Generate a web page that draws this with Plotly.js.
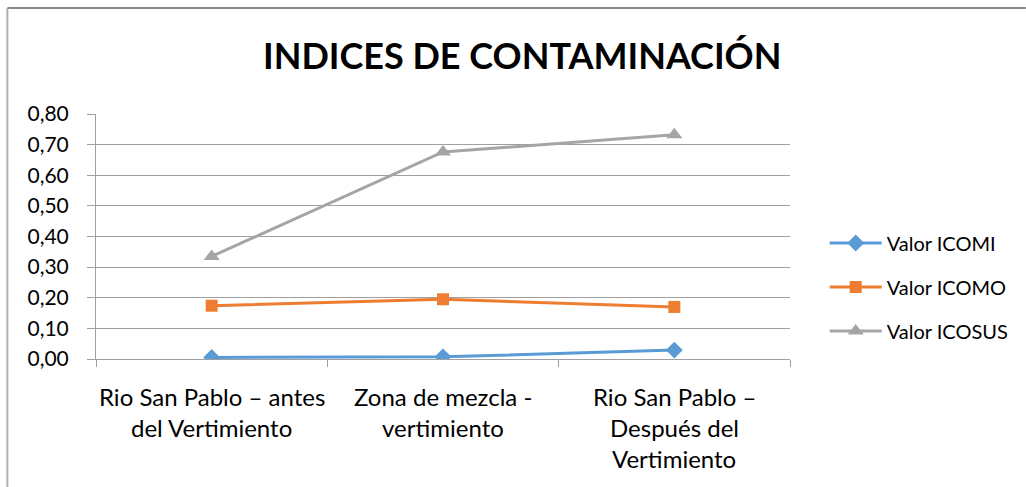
<!DOCTYPE html>
<html>
<head>
<meta charset="utf-8">
<script src="https://cdn.plot.ly/plotly-3.0.1.min.js"></script>
<style>
  body { margin: 0; background: #fff; }
  #plotArea { width: 1026px; height: 487px; }
</style>
</head>
<body>
<div id="plotArea"></div>
<script>
// categories (sampling points) and index values
let categories = ["Rio San Pablo – antes<br>del Vertimiento", "Zona de mezcla -<br>vertimiento", "Rio San Pablo –<br>Después del<br>Vertimiento"];
let icomi = [0.005, 0.007, 0.029];
let icomo = [0.174, 0.195, 0.170];
let icosus = [0.335, 0.676, 0.732];
let seriesNames = ["Valor ICOMI", "Valor ICOMO", "Valor ICOSUS"];
let yTicks = [0, 0.1, 0.2, 0.3, 0.4, 0.5, 0.6, 0.7, 0.8];

let font = "Lato, 'Open Sans', sans-serif";

function makeTrace(vals, name, color, symbol, size) {
  return {
    x: categories, y: vals, name: name, legendgroup: name,
    type: "scatter", mode: "lines+markers",
    line: { color: color, width: 3 },
    marker: { color: color, symbol: symbol, size: size }
  };
}

let data = [
  makeTrace(icomi, seriesNames[0], "#5B9BD5", "diamond", 13),
  makeTrace(icomo, seriesNames[1], "#ED7D31", "square", 12),
  makeTrace(icosus, seriesNames[2], "#A5A5A5", "triangle-up", 14)
];

// x labels as annotations so the line spacing can match
let annotations = [];
categories.forEach(function (c) {
  c.split("<br>").forEach(function (line, i) {
    annotations.push({
      x: c, y: 0, xref: "x", yref: "paper", text: line, showarrow: false,
      yanchor: "top", yshift: -21 - i * 31,
      font: { family: font, size: 24, color: "#000" }
    });
  });
});

let layout = {
  width: 1026, height: 487,
  margin: { l: 96, r: 233, t: 114, b: 128 },
  paper_bgcolor: "#fff", plot_bgcolor: "#fff",
  separators: ",.",
  font: { family: font, color: "#000" },
  title: {
    text: "<b>INDICES DE CONTAMINACIÓN</b>",
    font: { family: font, size: 36, color: "#000" },
    x: 0.509, xanchor: "center", y: 0.885, yanchor: "middle"
  },
  xaxis: {
    type: "category", tickson: "boundaries", ticks: "outside", ticklen: 7,
    tickcolor: "#a0a0a0", showticklabels: false,
    showline: true, linecolor: "#a0a0a0", linewidth: 1,
    showgrid: false, range: [-0.5, 2.5]
  },
  yaxis: {
    range: [0, 0.8], tickvals: yTicks, tickformat: ".2f",
    ticks: "outside", ticklen: 8, tickcolor: "#a0a0a0",
    ticklabelstandoff: 14,
    showline: true, linecolor: "#a0a0a0", linewidth: 1,
    gridcolor: "#a0a0a0", gridwidth: 1, zeroline: false,
    tickfont: { family: font, size: 21, color: "#000" }
  },
  legend: {
    x: 1.05, y: 0.294, xanchor: "left", yanchor: "middle",
    traceorder: "grouped", tracegroupgap: 15, itemwidth: 52,
    font: { family: font, size: 20, color: "#000" }
  },
  annotations: annotations,
  shapes: [
    { type: "line", xref: "paper", yref: "paper", x0: -0.1277, x1: -0.1277, y0: 1.4327, y1: -0.53, line: { color: "#b0b0b0", width: 2 } },
    { type: "line", xref: "paper", yref: "paper", x0: -0.1277, x1: 1.34, y0: 1.4327, y1: 1.4327, line: { color: "#8a8a8a", width: 2 } }
  ]
};

Plotly.newPlot("plotArea", data, layout, { displayModeBar: false });
</script>
</body>
</html>
